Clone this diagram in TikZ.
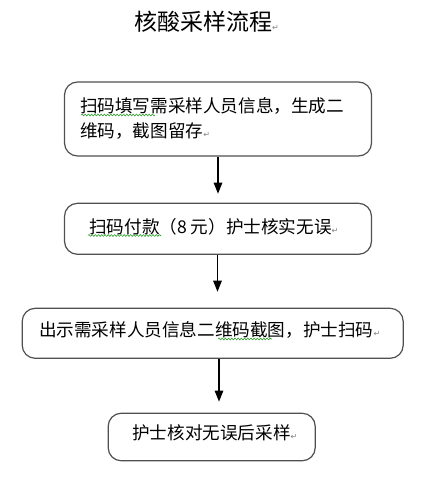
\documentclass[tikz,border=0pt]{standalone}
\usepackage{fontspec}
\setmainfont{Noto Sans CJK SC}
\newfontfamily\symfont{DejaVu Sans}
\usetikzlibrary{arrows.meta,decorations.pathmorphing}
\definecolor{boxline}{HTML}{505050}
\definecolor{wavy}{HTML}{2EA02E}
\definecolor{pmark}{HTML}{808080}
\newcommand{\retmark}{{\symfont\fontsize{8}{8}\selectfont\textcolor{pmark}{↵}}}
\begin{document}
\begin{tikzpicture}[x=1pt,y=-1pt,
  flowbox/.style={draw=boxline,line width=1.2pt,rounded corners=13pt,inner sep=0pt},
  flowtext/.style={anchor=west,inner sep=0pt,font=\fontsize{17.6}{20}\selectfont},
  titletext/.style={anchor=west,inner sep=0pt,font=\fontsize{23}{26}\selectfont},
  flowarrow/.style={line width=1.3pt,-{Triangle[length=11pt,width=8.5pt]}},
  spell/.style={wavy,line width=0.6pt,decorate,decoration={snake,segment length=3.2pt,amplitude=0.9pt}}]
\useasboundingbox (0,0) rectangle (433,480);

\node[titletext] (title) at (134,21.5) {核酸采样流程\retmark};

\node[flowbox,minimum width=307pt,minimum height=74pt] (b1) at (218,119) {};
\node[flowbox,minimum width=307pt,minimum height=51pt] (b2) at (218,228.8) {};
\node[flowbox,minimum width=381pt,minimum height=50pt] (b3) at (212.7,333.3) {};
\node[flowbox,minimum width=207pt,minimum height=47.5pt] (b4) at (211.7,437) {};

\node[flowtext] (t1a) at (80,106) {扫码填写需采样人员信息，生成二};
\node[flowtext] (t1b) at (80,131) {维码，截图留存\retmark};
\node[flowtext] (t2) at (89,227) {扫码付款（8 元）护士核实无误\retmark};
\node[flowtext] (t3) at (39,330) {出示需采样人员信息二维码截图，护士扫码\retmark};
\node[flowtext] (t4) at (132,433) {护士核对无误后采样\retmark};

\draw[spell] (81,115) -- (155,115);
\draw[spell] (88,235.5) -- (161,235.5);
\draw[spell] (218,339) -- (272,339);

\draw[flowarrow,shorten >=9pt] (b1.south) -- (b2.north);
\draw[flowarrow,shorten >=16pt] ([xshift=-0.5pt]b2.south) -- ([xshift=-0.5pt]b2.south |- b3.north);
\draw[flowarrow,shorten >=11pt] ([xshift=1pt]b2.south |- b3.south) -- ([xshift=1pt]b2.south |- b4.north);
\end{tikzpicture}
\end{document}
